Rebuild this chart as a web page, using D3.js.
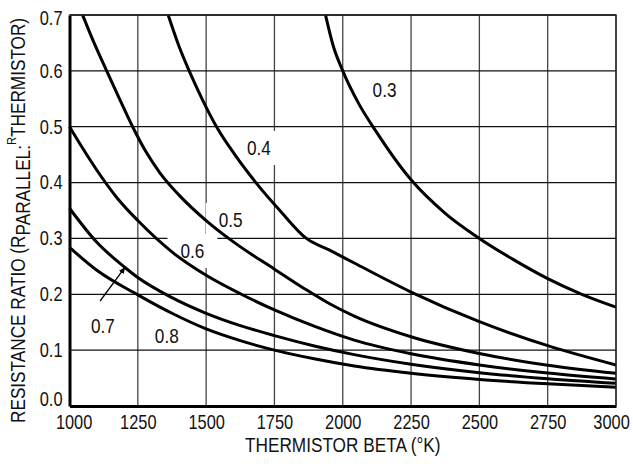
<!DOCTYPE html>
<html>
<head>
<meta charset="utf-8">
<script src="https://cdn.jsdelivr.net/npm/d3@7"></script>
<style>
  html, body { margin: 0; padding: 0; background: #fff; }
  svg { display: block; }
  text { font-family: "Liberation Sans", Arial, sans-serif; fill: #111; }
</style>
</head>
<body>
<svg id="chart" width="633" height="468"></svg>
<script>
// axis ticks
const xTicks = [1000, 1250, 1500, 1750, 2000, 2250, 2500, 2750, 3000];
const yTicks = [0.0, 0.1, 0.2, 0.3, 0.4, 0.5, 0.6, 0.7];

// curves: [thermistor beta, resistance ratio]
const curve03 = [[1937, 0.70], [1965, 0.645], [2000, 0.60], [2060, 0.54], [2120, 0.493], [2250, 0.405], [2375, 0.345], [2500, 0.30], [2625, 0.262], [2750, 0.228], [2875, 0.20], [3000, 0.177]];
const curve04 = [[1361, 0.70], [1400, 0.645], [1438, 0.60], [1485, 0.55], [1538, 0.50], [1605, 0.45], [1682, 0.40], [1770, 0.35], [1867, 0.30], [1952, 0.279], [2042, 0.256], [2250, 0.204], [2500, 0.151], [2750, 0.108], [3000, 0.0734]];
const curve05 = [[1048, 0.70], [1090, 0.65], [1136, 0.60], [1183, 0.55], [1231, 0.50], [1280, 0.455], [1330, 0.418], [1400, 0.378], [1500, 0.332], [1605, 0.292], [1750, 0.245], [1860, 0.21], [1952, 0.183], [2042, 0.161], [2250, 0.124], [2500, 0.094], [2750, 0.073], [3000, 0.0585]];
const curve06 = [[1000, 0.50], [1050, 0.46], [1099, 0.423], [1175, 0.372], [1250, 0.332], [1385, 0.272], [1500, 0.234], [1625, 0.201], [1750, 0.172], [1900, 0.142], [2042, 0.118], [2250, 0.0935], [2500, 0.0735], [2750, 0.059], [3000, 0.0483]];
const curve07 = [[1000, 0.354], [1100, 0.293], [1203, 0.248], [1250, 0.230], [1375, 0.194], [1500, 0.166], [1625, 0.144], [1750, 0.126], [1900, 0.107], [2042, 0.092], [2250, 0.0748], [2500, 0.0597], [2750, 0.0488], [3000, 0.0406]];
const curve08 = [[1000, 0.284], [1100, 0.243], [1250, 0.199], [1375, 0.166], [1500, 0.138], [1625, 0.117], [1750, 0.100], [1900, 0.084], [2042, 0.0715], [2250, 0.0585], [2500, 0.0476], [2750, 0.0397], [3000, 0.0335]];
const curves = [curve03, curve04, curve05, curve06, curve07, curve08];

// curve labels (in data units)
const labelText = ["0.3", "0.4", "0.5", "0.6", "0.7", "0.8"];
const labelBeta = [2153, 1693, 1590, 1450, 1122, 1356];
const labelRatio = [0.566, 0.462, 0.333, 0.2775, 0.143, 0.125];
const labelBoxed = [false, true, true, true, false, false];
const arrowFrom = [1112, 0.188];
const arrowTo = [1203, 0.248];

// the original uses a condensed face; squeeze the installed sans to match
const SQUEEZE = 0.82;

const svg = d3.select("#chart");
const plotLeft = 69.5, plotRight = 616, plotTop = 15, plotBottom = 406;

const x = d3.scaleLinear().domain([1000, 3000]).range([plotLeft, plotRight]);
const y = d3.scaleLinear().domain([0, 0.7]).range([plotBottom, plotTop]);

// grid
svg.append("g")
  .selectAll("line")
  .data(xTicks.slice(1))
  .join("line")
  .attr("x1", (d) => x(d)).attr("x2", (d) => x(d))
  .attr("y1", plotTop).attr("y2", plotBottom)
  .attr("stroke", "#444")
  .attr("stroke-width", 1.3);

svg.append("g")
  .selectAll("line")
  .data(yTicks.slice(1))
  .join("line")
  .attr("x1", plotLeft).attr("x2", plotRight)
  .attr("y1", (d) => y(d)).attr("y2", (d) => y(d))
  .attr("stroke", "#111")
  .attr("stroke-width", 1.3);

const labels = labelText.map((t, i) => ({ t, b: labelBeta[i], r: labelRatio[i], boxed: labelBoxed[i] }));

const boxG = svg.append("g");
const curveG = svg.append("g");
const labelG = svg.append("g");

labelG.selectAll("text")
  .data(labels)
  .join("text")
  .attr("transform", (d) => `translate(${x(d.b)},${y(d.r)}) scale(0.86,1)`)
  .attr("dy", "0.36em")
  .attr("text-anchor", "middle")
  .attr("font-size", 20)
  .text((d) => d.t);

// white boxes behind some labels cut the grid like in the original
labelG.selectAll("text").each(function (d) {
  if (!d.boxed) return;
  const w = this.getComputedTextLength() * 0.86 + 26;
  boxG.append("rect")
    .attr("x", x(d.b) - w / 2)
    .attr("y", y(d.r) - 17)
    .attr("width", w)
    .attr("height", 34)
    .attr("fill", "#fff");
});

// curves
const line = d3.line()
  .x((d) => x(d[0]))
  .y((d) => y(d[1]))
  .curve(d3.curveMonotoneX);

curveG.selectAll("path")
  .data(curves)
  .join("path")
  .attr("d", line)
  .attr("fill", "none")
  .attr("stroke", "#000")
  .attr("stroke-width", 3);

// arrow for the 0.7 label
svg.append("defs").append("marker")
  .attr("id", "head")
  .attr("viewBox", "0 0 10 10")
  .attr("refX", 9).attr("refY", 5)
  .attr("markerWidth", 7).attr("markerHeight", 7)
  .attr("markerUnits", "userSpaceOnUse")
  .attr("orient", "auto")
  .append("path")
  .attr("d", "M0,1 L10,5 L0,9 Z")
  .attr("fill", "#000");

svg.append("line")
  .attr("x1", x(arrowFrom[0])).attr("y1", y(arrowFrom[1]))
  .attr("x2", x(arrowTo[0])).attr("y2", y(arrowTo[1]))
  .attr("stroke", "#000")
  .attr("stroke-width", 1.3)
  .attr("marker-end", "url(#head)");

// axes
const xAxis = svg.append("g")
  .attr("transform", `translate(0,${plotBottom})`)
  .call(d3.axisBottom(x).tickValues(xTicks).tickSize(0).tickSizeOuter(0).tickPadding(9).tickFormat(d3.format("d")));

const yAxis = svg.append("g")
  .attr("transform", `translate(${plotLeft},0)`)
  .call(d3.axisLeft(y).tickValues(yTicks).tickSize(0).tickSizeOuter(0).tickPadding(7 / SQUEEZE).tickFormat(d3.format(".1f")));

[xAxis, yAxis].forEach((g) => {
  g.select(".domain").attr("stroke", "#000").attr("stroke-width", 3);
  g.selectAll("text")
    .attr("font-size", 20)
    .attr("font-family", null)
    .attr("fill", "#111")
    .attr("transform", `scale(${SQUEEZE},1)`);
});

// nudge the end labels inward like the original
xAxis.selectAll(".tick text").attr("dx", (d, i) => (i === 0 ? 5 : i === xTicks.length - 1 ? -6 : 0));
yAxis.selectAll(".tick text").attr("dy", (d, i) => (i === 0 ? "-0.05em" : i === yTicks.length - 1 ? "0.45em" : "0.32em"));

// top and right border
svg.append("path")
  .attr("d", `M${plotLeft},${plotTop}H${plotRight}V${plotBottom}`)
  .attr("fill", "none")
  .attr("stroke", "#222")
  .attr("stroke-width", 1.3);

// axis titles
svg.append("text")
  .attr("transform", `translate(${(plotLeft + plotRight) / 2},452) scale(0.84,1)`)
  .attr("text-anchor", "middle")
  .attr("font-size", 20.5)
  .text("THERMISTOR BETA (°K)");

const yt = svg.append("text")
  .attr("transform", "translate(25,423) rotate(-90) scale(0.86,1)")
  .attr("font-size", 20);
yt.append("tspan").text("RESISTANCE RATIO (R");
yt.append("tspan").attr("dy", 5).text("PARALLEL:");
yt.append("tspan").attr("dy", -14).attr("font-size", 13).text("R");
yt.append("tspan").attr("dy", 9).text("THERMISTOR)");
</script>
</body>
</html>
